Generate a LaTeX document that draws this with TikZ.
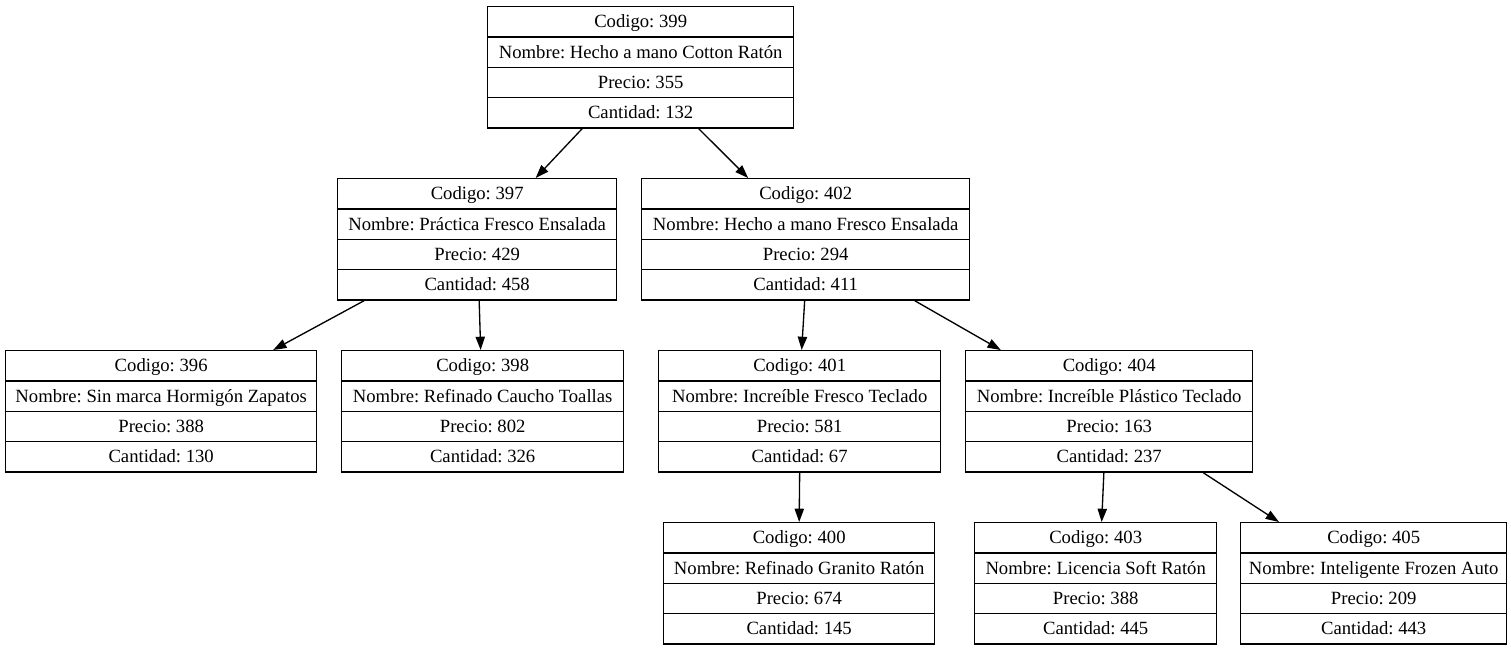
\documentclass[tikz,border=0pt]{standalone}
\usepackage{fontspec}
\setmainfont{Liberation Serif}
\usetikzlibrary{shapes.multipart,arrows.meta}
\frenchspacing
\newcommand{\fila}{\rule[-8.5pt]{0pt}{29pt}}
\tikzset{
  registro/.style={draw, line width=1.33pt, rectangle split, rectangle split parts=4,
    minimum width=#1, inner ysep=0pt, inner xsep=4pt, anchor=north west,
    font=\fontsize{18.67}{22}\selectfont},
  enlace/.style={line width=1.33pt, -{Triangle[length=13.3pt,width=9.3pt]}}
}
\begin{document}
\begin{tikzpicture}[x=1pt,y=-1pt]
        \useasboundingbox (0,0) rectangle (1511,651);
        % raiz
        \node[registro=306pt] (n399) at (487,6) {\fila Codigo: 399
          \nodepart{two}\fila Nombre: Hecho a mano Cotton Ratón
          \nodepart{three}\fila Precio: 355
          \nodepart{four}\fila Cantidad: 132};
        % nivel 1
        \node[registro=279pt] (n397) at (337,178) {\fila Codigo: 397
          \nodepart{two}\fila Nombre: Práctica Fresco Ensalada
          \nodepart{three}\fila Precio: 429
          \nodepart{four}\fila Cantidad: 458};
        \node[registro=328pt] (n402) at (641,178) {\fila Codigo: 402
          \nodepart{two}\fila Nombre: Hecho a mano Fresco Ensalada
          \nodepart{three}\fila Precio: 294
          \nodepart{four}\fila Cantidad: 411};
        % nivel 2
        \node[registro=311pt] (n396) at (5,350) {\fila Codigo: 396
          \nodepart{two}\fila Nombre: Sin marca Hormigón Zapatos
          \nodepart{three}\fila Precio: 388
          \nodepart{four}\fila Cantidad: 130};
        \node[registro=282pt] (n398) at (341,350) {\fila Codigo: 398
          \nodepart{two}\fila Nombre: Refinado Caucho Toallas
          \nodepart{three}\fila Precio: 802
          \nodepart{four}\fila Cantidad: 326};
        \node[registro=282pt] (n401) at (658,350) {\fila Codigo: 401
          \nodepart{two}\fila Nombre: Increíble Fresco Teclado
          \nodepart{three}\fila Precio: 581
          \nodepart{four}\fila Cantidad: 67};
        \node[registro=287pt] (n404) at (965,350) {\fila Codigo: 404
          \nodepart{two}\fila Nombre: Increíble Plástico Teclado
          \nodepart{three}\fila Precio: 163
          \nodepart{four}\fila Cantidad: 237};
        % nivel 3
        \node[registro=271pt] (n400) at (663,522) {\fila Codigo: 400
          \nodepart{two}\fila Nombre: Refinado Granito Ratón
          \nodepart{three}\fila Precio: 674
          \nodepart{four}\fila Cantidad: 145};
        \node[registro=242pt] (n403) at (974,522) {\fila Codigo: 403
          \nodepart{two}\fila Nombre: Licencia Soft Ratón
          \nodepart{three}\fila Precio: 388
          \nodepart{four}\fila Cantidad: 445};
        \node[registro=266pt] (n405) at (1240,522) {\fila Codigo: 405
          \nodepart{two}\fila Nombre: Inteligente Frozen Auto
          \nodepart{three}\fila Precio: 209
          \nodepart{four}\fila Cantidad: 443};
        % enlaces
        \draw[enlace] ([xshift=-58.5pt]n399.south) -- ([xshift=58.5pt]n397.north);
        \draw[enlace] ([xshift=58pt]n399.south) -- ([xshift=-57.5pt]n402.north);
        \draw[enlace] ([xshift=-113pt]n397.south) -- ([xshift=112pt]n396.north);
        \draw[enlace] ([xshift=2pt]n397.south) -- ([xshift=-2pt]n398.north);
        \draw[enlace] ([xshift=-1pt]n402.south) -- ([xshift=2pt]n401.north);
        \draw[enlace] ([xshift=109pt]n402.south) -- ([xshift=-108.4pt]n404.north);
        \draw[enlace] (n401.south) -- (n400.north);
        \draw[enlace] ([xshift=-5.3pt]n404.south) -- ([xshift=6pt]n403.north);
        \draw[enlace] ([xshift=94pt]n404.south) -- ([xshift=-94.7pt]n405.north);
        \end{tikzpicture}
\end{document}
